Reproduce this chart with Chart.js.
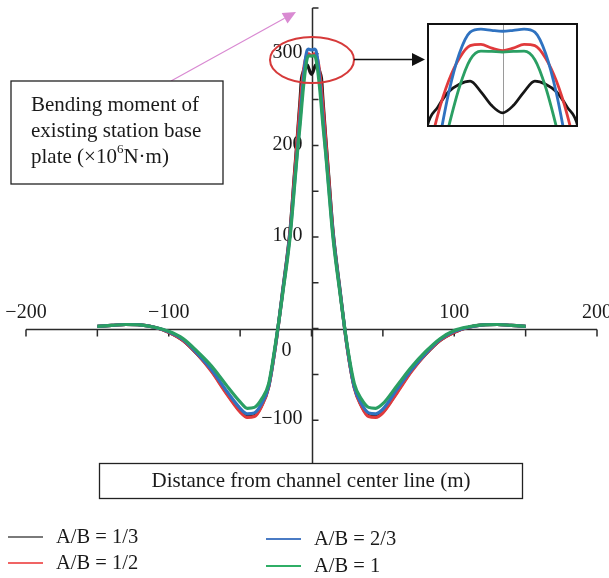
<!DOCTYPE html>
<html>
<head>
<meta charset="utf-8">
<script src="https://cdn.jsdelivr.net/npm/chart.js@4.4.1/dist/chart.umd.min.js"></script>
<style>
  html, body { margin: 0; padding: 0; background: #fff; }
  .wrap { position: relative; width: 609px; height: 578px; }
  #main { position: absolute; left: 0; top: 0; }
  #zoom { position: absolute; left: 427px; top: 23px; }
</style>
</head>
<body>
<div class="wrap">
  <canvas id="main" width="609" height="578"></canvas>
  <canvas id="zoom" width="151" height="104"></canvas>
</div>
<script>
const SERIF = '"Liberation Serif", "DejaVu Serif", serif'

// distance from channel centre line (m)
const distance = [
  -150, -140, -130, -120, -110, -100, -90, -80, -70, -60, -50, -45, -40, -35, -30, -25, -20, -15, -12, -10,
  -8, -7, -6, -5, -4, -3, -2, -1, 0, 1, 2, 3, 4, 5, 6, 7, 8,
  10, 12, 15, 20, 25, 30, 35, 40, 45, 50, 60, 70, 80, 90, 100, 110, 120, 130, 140, 150
]

// bending moment of the base plate (x10^6 N·m), one list per A/B ratio
const ab13 = [
  2.5, 3.5, 4.5, 4, 1.5, -4, -13, -28, -46, -69, -90, -96, -95, -84, -63, -16, 44, 108, 168, 208,
  250, 273, 279.5, 284.5, 287, 288, 284.5, 280, 277.6, 280, 284.5, 288, 287, 284.5, 279.5, 273, 250,
  208, 168, 108, 42, -20, -64, -84, -95, -96, -91, -69, -46, -28, -13, -4, 1.5, 4, 4.5, 3.5, 2.5
]
const ab12 = [
  2.5, 3.5, 4.5, 4, 1.5, -4, -13, -28, -47, -70, -91, -97, -96, -85, -64, -17, 42, 106, 165, 205,
  244, 262, 277, 288, 295.5, 299.6, 300, 298.8, 298, 298.8, 300, 299.6, 295.5, 288, 277, 262, 244,
  205, 165, 106, 40, -21, -65, -85, -96, -97, -92, -70, -47, -28, -13, -4, 1.5, 4, 4.5, 3.5, 2.5
]
const ab23 = [
  2.5, 3.5, 4.5, 4, 1.5, -3.5, -12, -27, -45, -67, -87, -93, -92, -82, -63, -16, 42, 104, 157, 193,
  229, 248, 266, 284, 297, 304, 305, 304.6, 304.3, 304.6, 305, 304, 297, 284, 266, 248, 229,
  193, 157, 104, 40, -20, -64, -82, -92, -93, -88, -66, -45, -27, -12, -3, 1.5, 4, 4.5, 3.5, 2.5
]
const ab1 = [
  2.5, 3.5, 4.5, 4, 1.5, -3, -11, -25, -41, -61, -80, -87, -86, -77, -60, -14, 40, 100, 153, 190,
  222, 240, 258, 273, 286, 295, 297.8, 297.7, 297.5, 297.7, 297.8, 295, 286, 273, 258, 240, 222,
  190, 153, 100, 38, -18, -60, -77, -86, -87, -82, -62, -42, -25, -11, -2, 2, 4, 4.5, 3.5, 2.5
]

const seriesLabels = ['A/B = 1/3', 'A/B = 1/2', 'A/B = 2/3', 'A/B = 1']
const seriesValues = [ab13, ab12, ab23, ab1]
const seriesColors = ['#161616', '#e03a3c', '#2f72c0', '#2a9f63']
const keyColors = ['#7a7a7a', '#f06464', '#4a7bc4', '#2fae66']

const xTicks = [-200, -150, -100, -50, 0, 50, 100, 150, 200]
const xTickLabels = [-200, -100, 100, 200]
const yTicks = [-150, -100, -50, 0, 50, 100, 150, 200, 250, 300, 350]
const yTickLabels = [-100, 100, 200, 300]

const fmt = (v) => (v < 0 ? '\u2212' + Math.abs(v) : String(v))
const toPoints = (vals) => distance.map((x, i) => ({ x, y: vals[i] }))

// green on top, black at the bottom
const makeDatasets = (width) => seriesValues.map((vals, i) => ({
  label: seriesLabels[i],
  data: toPoints(vals),
  borderColor: seriesColors[i],
  borderWidth: width,
  pointRadius: 0,
  cubicInterpolationMode: 'monotone',
  order: seriesValues.length - 1 - i
}))

// axes crossing at the origin, labels above the x axis and left of the y axis
const crossAxes = {
  id: 'crossAxes',
  beforeDatasetsDraw(chart) {
    const { ctx, scales: { x, y } } = chart
    const x0 = Math.round(x.getPixelForValue(0)) + 0.5
    const y0 = Math.round(y.getPixelForValue(0)) + 0.5
    ctx.save()
    ctx.strokeStyle = '#2a2a2a'
    ctx.lineWidth = 1.5
    ctx.beginPath()
    ctx.moveTo(x.left, y0)
    ctx.lineTo(x.right, y0)
    ctx.moveTo(x0, y.top)
    ctx.lineTo(x0, y.bottom)
    xTicks.forEach((v) => {
      const px = x.getPixelForValue(v)
      ctx.moveTo(px, y0)
      ctx.lineTo(px, y0 + 7)
    })
    yTicks.forEach((v) => {
      const py = y.getPixelForValue(v)
      ctx.moveTo(x0, py)
      ctx.lineTo(x0 + 6, py)
    })
    ctx.stroke()

    ctx.fillStyle = '#1a1a1a'
    ctx.font = `20px ${SERIF}`
    ctx.textBaseline = 'middle'
    ctx.textAlign = 'center'
    xTickLabels.forEach((v) => ctx.fillText(fmt(v), x.getPixelForValue(v), y0 - 17))
    ctx.fillText('0', x0 - 26, y0 + 21)
    ctx.textAlign = 'right'
    yTickLabels.forEach((v) => ctx.fillText(fmt(v), x0 - 10, y.getPixelForValue(v) - 1))
    ctx.restore()
  }
}

function arrow(ctx, x1, y1, x2, y2, len, half) {
  const a = Math.atan2(y2 - y1, x2 - x1)
  const bx = x2 - len * Math.cos(a)
  const by = y2 - len * Math.sin(a)
  ctx.beginPath()
  ctx.moveTo(x1, y1)
  ctx.lineTo(bx, by)
  ctx.stroke()
  ctx.beginPath()
  ctx.moveTo(x2, y2)
  ctx.lineTo(bx + half * Math.sin(a), by - half * Math.cos(a))
  ctx.lineTo(bx - half * Math.sin(a), by + half * Math.cos(a))
  ctx.closePath()
  ctx.fill()
}

// text boxes, callouts and the legend
const notes = {
  id: 'notes',
  afterDraw(chart) {
    const { ctx } = chart
    ctx.save()

    // pink pointer from the y-axis title up to the axis end
    ctx.strokeStyle = ctx.fillStyle = '#d98ad2'
    ctx.lineWidth = 1.2
    arrow(ctx, 171, 81, 296, 12, 13, 6)

    // circled peak and arrow to the zoomed view
    ctx.strokeStyle = '#d63a3a'
    ctx.lineWidth = 2
    ctx.beginPath()
    ctx.ellipse(312, 60, 42, 23, 0, 0, Math.PI * 2)
    ctx.stroke()
    ctx.strokeStyle = ctx.fillStyle = '#111'
    ctx.lineWidth = 1.5
    arrow(ctx, 354, 59.5, 425, 59.5, 13, 6.5)

    // y-axis title box
    ctx.fillStyle = '#fff'
    ctx.fillRect(11, 81, 212, 103)
    ctx.strokeStyle = '#222'
    ctx.lineWidth = 1.3
    ctx.strokeRect(11, 81, 212, 103)
    ctx.fillStyle = '#1a1a1a'
    ctx.font = `21px ${SERIF}`
    ctx.textAlign = 'left'
    ctx.textBaseline = 'middle'
    ctx.fillText('Bending moment of', 31, 105)
    ctx.fillText('existing station base', 31, 131)
    let tx = 31
    const head = 'plate (\u00d710'
    ctx.fillText(head, tx, 157)
    tx += ctx.measureText(head).width
    ctx.font = `13px ${SERIF}`
    ctx.fillText('6', tx, 150)
    tx += ctx.measureText('6').width
    ctx.font = `21px ${SERIF}`
    ctx.fillText('N\u00b7m)', tx, 157)

    // x-axis title box
    ctx.fillStyle = '#fff'
    ctx.fillRect(99.5, 463.5, 423, 35)
    ctx.strokeRect(99.5, 463.5, 423, 35)
    ctx.fillStyle = '#1a1a1a'
    ctx.textAlign = 'center'
    ctx.fillText('Distance from channel center line (m)', 311, 481)

    // legend, two columns
    const spots = [[8, 537], [8, 563], [266, 539], [266, 566]]
    ctx.textAlign = 'left'
    ctx.font = `20.5px ${SERIF}`
    chart.data.datasets.forEach((ds, i) => {
      const [lx, ly] = spots[i]
      ctx.strokeStyle = keyColors[i]
      ctx.lineWidth = 2
      ctx.beginPath()
      ctx.moveTo(lx, ly)
      ctx.lineTo(lx + 35, ly)
      ctx.stroke()
      ctx.fillStyle = '#1a1a1a'
      ctx.fillText(ds.label, lx + 48, ly + 1)
    })
    ctx.restore()
  }
}

new Chart(document.getElementById('main'), {
  type: 'line',
  data: { datasets: makeDatasets(3.2) },
  options: {
    responsive: false,
    animation: false,
    events: [],
    layout: { padding: { left: 26, right: 12, top: 8, bottom: 112 } },
    scales: {
      x: { type: 'linear', min: -200, max: 200, display: false },
      y: { type: 'linear', min: -150, max: 350, display: false }
    },
    plugins: { legend: { display: false }, tooltip: { enabled: false } }
  },
  plugins: [crossAxes, notes]
})

// zoomed view of the peak
const frame = {
  id: 'frame',
  beforeDatasetsDraw(chart) {
    const { ctx, chartArea: a, scales: { x } } = chart
    const px = Math.round(x.getPixelForValue(0)) + 0.5
    ctx.save()
    ctx.strokeStyle = '#9a9a9a'
    ctx.lineWidth = 1
    ctx.beginPath()
    ctx.moveTo(px, a.top)
    ctx.lineTo(px, a.bottom)
    ctx.stroke()
    ctx.restore()
  },
  afterDraw(chart) {
    const { ctx, width, height } = chart
    ctx.save()
    ctx.strokeStyle = '#111'
    ctx.lineWidth = 2
    ctx.strokeRect(1, 1, width - 2, height - 2)
    ctx.restore()
  }
}

new Chart(document.getElementById('zoom'), {
  type: 'line',
  data: { datasets: makeDatasets(2.8) },
  options: {
    responsive: false,
    animation: false,
    events: [],
    layout: { padding: 0 },
    scales: {
      x: { type: 'linear', min: -7, max: 7, display: false },
      y: { type: 'linear', min: 273, max: 307, display: false }
    },
    plugins: { legend: { display: false }, tooltip: { enabled: false } }
  },
  plugins: [frame]
})
</script>
</body>
</html>
